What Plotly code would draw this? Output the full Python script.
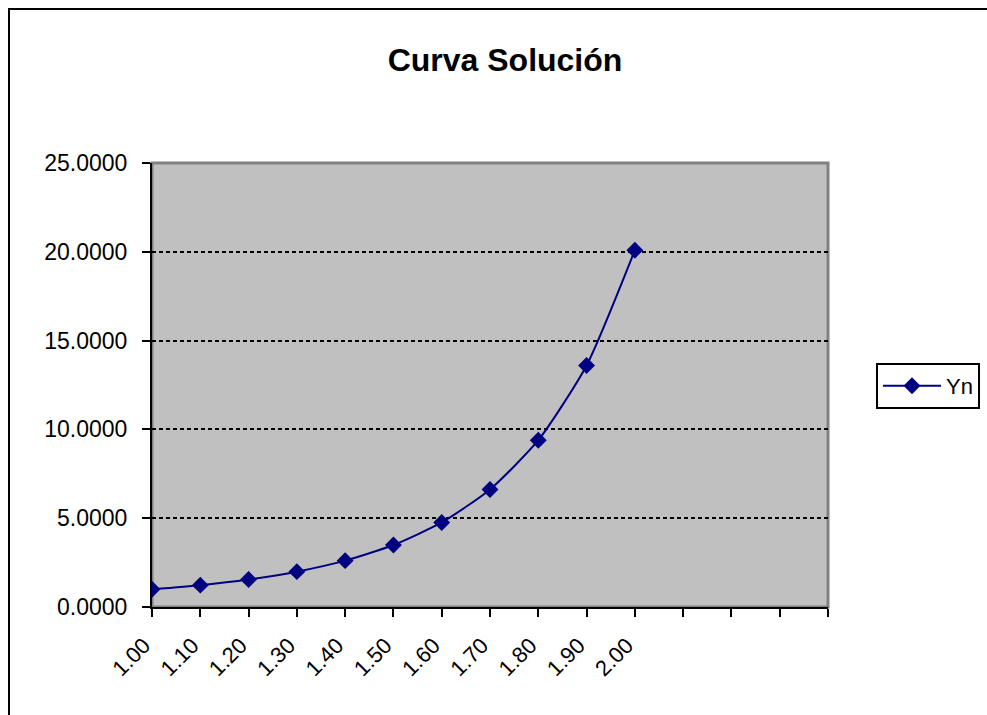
import plotly.graph_objects as go

# Step values (x) and the computed solution Yn at each step
x_vals = [1.0, 1.1, 1.2, 1.3, 1.4, 1.5, 1.6, 1.7, 1.8, 1.9, 2.0]
yn_vals = [1.00, 1.23, 1.55, 1.99, 2.61, 3.49, 4.76, 6.62, 9.39, 13.60, 20.09]

# Axis ticks: the category axis extends past the data with unlabeled slots
x_tick_vals = [round(1.0 + 0.1 * i, 1) for i in range(15)]
x_tick_text = [f"{v:.2f}" if v <= 2.0 + 1e-9 else "" for v in x_tick_vals]
y_tick_vals = [0, 5, 10, 15, 20, 25]

FONT = "Liberation Sans, Arial, sans-serif"
NAVY = "#000080"

W, H = 987, 715
L, R, T, B = 152, 159, 163, 108
plot_w = W - L - R
plot_h = H - T - B


def px_to_paper_x(px):
    return (px - L) / plot_w


def px_to_paper_y(py):
    return (H - B - py) / plot_h


fig = go.Figure()

fig.add_trace(go.Scatter(
    x=x_vals,
    y=yn_vals,
    name="Yn",
    mode="lines+markers",
    line=dict(color=NAVY, width=2, shape="spline", smoothing=0.6),
    marker=dict(symbol="diamond", size=13, color=NAVY),
))

fig.update_layout(
    width=W,
    height=H,
    margin=dict(l=L, r=R, t=T, b=B, autoexpand=False),
    paper_bgcolor="white",
    plot_bgcolor="#C0C0C0",
    font=dict(family=FONT, size=22, color="black"),
    title=dict(
        text="<b>Curva Solución</b>",
        font=dict(family=FONT, size=32, color="black"),
        x=505 / W,
        xref="container",
        xanchor="center",
        y=1 - 60 / H,
        yref="container",
        yanchor="middle",
    ),
    showlegend=True,
    legend=dict(
        x=px_to_paper_x(876),
        xanchor="left",
        y=px_to_paper_y(386),
        yanchor="middle",
        bgcolor="white",
        bordercolor="black",
        borderwidth=2,
        font=dict(family=FONT, size=22, color="black"),
        itemwidth=58,
    ),
    xaxis=dict(
        range=[1.0, 2.4],
        tickmode="array",
        tickvals=x_tick_vals,
        ticktext=x_tick_text,
        tickangle=-45,
        ticks="outside",
        ticklen=8,
        tickwidth=2,
        tickcolor="black",
        showline=True,
        linecolor="black",
        linewidth=2,
        showgrid=False,
        zeroline=False,
        ticklabelstandoff=7,
        ticklabelshift=-8,
        tickfont=dict(family=FONT, size=22, color="black"),
    ),
    yaxis=dict(
        range=[0, 25],
        tickmode="array",
        tickvals=y_tick_vals,
        tickformat=".4f",
        ticks="outside",
        ticklen=8,
        tickwidth=2,
        tickcolor="black",
        showline=True,
        linecolor="black",
        linewidth=2,
        showgrid=True,
        gridcolor="black",
        gridwidth=1.5,
        griddash="4px,3px",
        zeroline=False,
        ticklabelstandoff=10,
        tickfont=dict(family=FONT, size=23, color="black"),
    ),
    shapes=[
        # gray frame around the plotting area
        dict(type="rect", xref="paper", yref="paper", x0=0, y0=0, x1=1, y1=1,
             line=dict(color="#808080", width=3), fillcolor="#C0C0C0", layer="below"),
        # outer chart-area border
        dict(type="rect", xref="paper", yref="paper",
             x0=px_to_paper_x(9), y0=px_to_paper_y(730),
             x1=px_to_paper_x(1000), y1=px_to_paper_y(9),
             line=dict(color="black", width=2), fillcolor="rgba(0,0,0,0)", layer="below"),
    ],
)

fig.write_html("out.html")
